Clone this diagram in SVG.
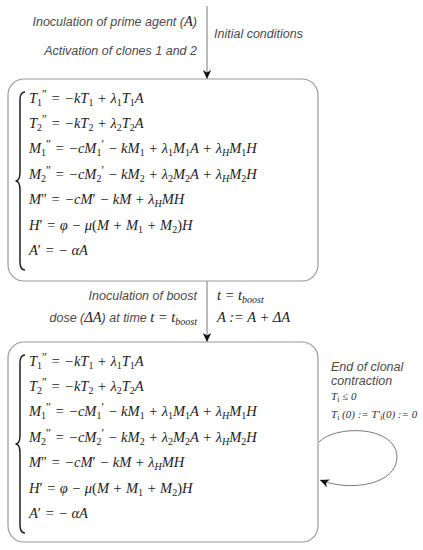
<svg xmlns="http://www.w3.org/2000/svg" width="423" height="550" viewBox="0 0 423 550">
<style>
.bg{fill:#fff}
.box{fill:none;stroke:#9a9a9a;stroke-width:1.2}
.edge{fill:none;stroke:#7a7a7a;stroke-width:1}
.brace{fill:none;stroke:#222;stroke-width:1.5}
.lbl{font-family:"Liberation Sans",Arial,sans-serif;font-style:italic;font-size:12.5px;fill:#4a4a4a}
.m{font-family:"Liberation Serif","Times New Roman",serif;font-style:italic;font-size:14.5px;fill:#222}
.sm{font-family:"Liberation Serif","Times New Roman",serif;font-style:italic;font-size:11px;fill:#333}
.u{font-style:normal}
.s{font-size:10px;font-style:normal}
.si{font-size:10px}
.p{font-size:12px;font-style:normal}
</style>
<defs>
<marker id="ah" viewBox="-10 -5 10 10" refX="0" refY="0" markerWidth="10" markerHeight="10" markerUnits="userSpaceOnUse" orient="auto">
<path d="M0,0 L-9,-4.2 L-6.5,0 L-9,4.2 Z" fill="#111"/>
</marker>
</defs>
<rect class="bg" x="0" y="0" width="423" height="550"/>

<g id="connectors">
<line class="edge" x1="207" y1="6" x2="207" y2="79" marker-end="url(#ah)"/>
<line class="edge" x1="207" y1="281" x2="207" y2="342" marker-end="url(#ah)"/>
<path class="edge" d="M319,442 C335,425 395,425 397,456 C398,485 350,492 320,480" marker-end="url(#ah)"/>
</g>

<g id="label-top">
<text class="lbl" x="197" y="26" text-anchor="end">Inoculation of prime agent (<tspan class="m" font-size="15">A</tspan>)</text>
<text class="lbl" x="197" y="55" text-anchor="end">Activation of clones 1 and 2</text>
<text class="lbl" x="214" y="38">Initial conditions</text>
</g>

<g id="system-1">
<rect class="box" x="8" y="79" width="310" height="202" rx="16"/>
<path class="brace" d="M25,92 Q20,92 20,100 L20,172 Q20,181 15.5,181 Q20,181 20,190 L20,262 Q20,270 25,270"/>
<text class="m" x="29" y="103">T<tspan class="s" dy="3">1</tspan><tspan class="p" dy="-8">″</tspan><tspan dy="5"> = −kT</tspan><tspan class="s" dy="3">1</tspan><tspan dy="-3"> + λ</tspan><tspan class="s" dy="3">1</tspan><tspan dy="-3">T</tspan><tspan class="s" dy="3">1</tspan><tspan dy="-3">A</tspan></text>
<text class="m" x="29" y="128">T<tspan class="s" dy="3">2</tspan><tspan class="p" dy="-8">″</tspan><tspan dy="5"> = −kT</tspan><tspan class="s" dy="3">2</tspan><tspan dy="-3"> + λ</tspan><tspan class="s" dy="3">2</tspan><tspan dy="-3">T</tspan><tspan class="s" dy="3">2</tspan><tspan dy="-3">A</tspan></text>
<text class="m" x="29" y="153">M<tspan class="s" dy="3">1</tspan><tspan class="p" dy="-8">″</tspan><tspan dy="5"> = −cM</tspan><tspan class="s" dy="3">1</tspan><tspan class="p" dy="-8">′</tspan><tspan dy="5"> − kM</tspan><tspan class="s" dy="3">1</tspan><tspan dy="-3"> + λ</tspan><tspan class="s" dy="3">1</tspan><tspan dy="-3">M</tspan><tspan class="s" dy="3">1</tspan><tspan dy="-3">A + λ</tspan><tspan class="si" dy="3">H</tspan><tspan dy="-3">M</tspan><tspan class="s" dy="3">1</tspan><tspan dy="-3">H</tspan></text>
<text class="m" x="29" y="179">M<tspan class="s" dy="3">2</tspan><tspan class="p" dy="-8">″</tspan><tspan dy="5"> = −cM</tspan><tspan class="s" dy="3">2</tspan><tspan class="p" dy="-8">′</tspan><tspan dy="5"> − kM</tspan><tspan class="s" dy="3">2</tspan><tspan dy="-3"> + λ</tspan><tspan class="s" dy="3">2</tspan><tspan dy="-3">M</tspan><tspan class="s" dy="3">2</tspan><tspan dy="-3">A + λ</tspan><tspan class="si" dy="3">H</tspan><tspan dy="-3">M</tspan><tspan class="s" dy="3">2</tspan><tspan dy="-3">H</tspan></text>
<text class="m" x="29" y="204">M<tspan class="u">″</tspan> = −cM<tspan class="u">′</tspan> − kM + λ<tspan class="si" dy="3">H</tspan><tspan dy="-3">MH</tspan></text>
<text class="m" x="29" y="230">H<tspan class="u">′</tspan> = φ − μ<tspan class="u">(</tspan>M + M<tspan class="s" dy="3">1</tspan><tspan dy="-3"> + M</tspan><tspan class="s" dy="3">2</tspan><tspan dy="-3" class="u">)</tspan>H</text>
<text class="m" x="29" y="255">A<tspan class="u">′</tspan> = −  αA</text>
</g>

<g id="label-boost">
<text class="lbl" x="197" y="300" text-anchor="end">Inoculation of boost</text>
<text class="lbl" x="197" y="322" text-anchor="end">dose (<tspan class="m" font-size="15">ΔA</tspan>) at time <tspan class="m" font-size="15">t = t</tspan><tspan class="m si" dy="3">boost</tspan></text>
<text class="m" x="217" y="300">t = t<tspan class="si" dy="3">boost</tspan></text>
<text class="m" x="217" y="322">A := A + ΔA</text>
</g>

<g id="system-2">
<rect class="box" x="8" y="342" width="310" height="200" rx="16"/>
<path class="brace" d="M25,355 Q20,355 20,363 L20,435 Q20,444 15.5,444 Q20,444 20,453 L20,525 Q20,533 25,533"/>
<text class="m" x="29" y="366">T<tspan class="s" dy="3">1</tspan><tspan class="p" dy="-8">″</tspan><tspan dy="5"> = −kT</tspan><tspan class="s" dy="3">1</tspan><tspan dy="-3"> + λ</tspan><tspan class="s" dy="3">1</tspan><tspan dy="-3">T</tspan><tspan class="s" dy="3">1</tspan><tspan dy="-3">A</tspan></text>
<text class="m" x="29" y="391">T<tspan class="s" dy="3">2</tspan><tspan class="p" dy="-8">″</tspan><tspan dy="5"> = −kT</tspan><tspan class="s" dy="3">2</tspan><tspan dy="-3"> + λ</tspan><tspan class="s" dy="3">2</tspan><tspan dy="-3">T</tspan><tspan class="s" dy="3">2</tspan><tspan dy="-3">A</tspan></text>
<text class="m" x="29" y="416">M<tspan class="s" dy="3">1</tspan><tspan class="p" dy="-8">″</tspan><tspan dy="5"> = −cM</tspan><tspan class="s" dy="3">1</tspan><tspan class="p" dy="-8">′</tspan><tspan dy="5"> − kM</tspan><tspan class="s" dy="3">1</tspan><tspan dy="-3"> + λ</tspan><tspan class="s" dy="3">1</tspan><tspan dy="-3">M</tspan><tspan class="s" dy="3">1</tspan><tspan dy="-3">A + λ</tspan><tspan class="si" dy="3">H</tspan><tspan dy="-3">M</tspan><tspan class="s" dy="3">1</tspan><tspan dy="-3">H</tspan></text>
<text class="m" x="29" y="442">M<tspan class="s" dy="3">2</tspan><tspan class="p" dy="-8">″</tspan><tspan dy="5"> = −cM</tspan><tspan class="s" dy="3">2</tspan><tspan class="p" dy="-8">′</tspan><tspan dy="5"> − kM</tspan><tspan class="s" dy="3">2</tspan><tspan dy="-3"> + λ</tspan><tspan class="s" dy="3">2</tspan><tspan dy="-3">M</tspan><tspan class="s" dy="3">2</tspan><tspan dy="-3">A + λ</tspan><tspan class="si" dy="3">H</tspan><tspan dy="-3">M</tspan><tspan class="s" dy="3">2</tspan><tspan dy="-3">H</tspan></text>
<text class="m" x="29" y="467">M<tspan class="u">″</tspan> = −cM<tspan class="u">′</tspan> − kM + λ<tspan class="si" dy="3">H</tspan><tspan dy="-3">MH</tspan></text>
<text class="m" x="29" y="493">H<tspan class="u">′</tspan> = φ − μ<tspan class="u">(</tspan>M + M<tspan class="s" dy="3">1</tspan><tspan dy="-3"> + M</tspan><tspan class="s" dy="3">2</tspan><tspan dy="-3" class="u">)</tspan>H</text>
<text class="m" x="29" y="518">A<tspan class="u">′</tspan> = −  αA</text>
</g>

<g id="label-loop">
<text class="lbl" x="331" y="371">End of clonal</text>
<text class="lbl" x="331" y="385">contraction</text>
<text class="sm" x="331" y="400">T<tspan class="u" font-size="8" dy="2">i</tspan><tspan dy="-2"> ≤ 0</tspan></text>
<text class="sm" x="331" y="418">T<tspan class="u" font-size="8" dy="2">i</tspan><tspan dy="-2"> (0) := T′</tspan><tspan class="u" font-size="8" dy="2">i</tspan><tspan dy="-2">(0) := 0</tspan></text>
</g>
</svg>
